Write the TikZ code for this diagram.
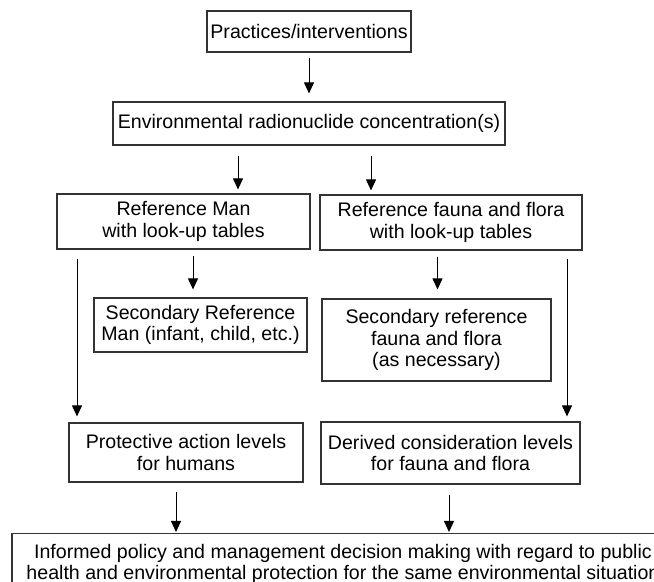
\documentclass[tikz,border=0pt]{standalone}
\usepackage{fontspec}
\setmainfont{Liberation Sans}
\usetikzlibrary{arrows.meta}
\tikzset{>={Triangle[length=5.5pt,width=5pt]}}
\colorlet{boxcol}{black!80}
\tikzstyle{box}=[draw=boxcol,line width=0.6pt,align=center,inner sep=0pt,font=\fontsize{9.8}{10.8}\selectfont]
\tikzstyle{arr}=[->,line width=0.5pt]

\begin{document}
\begin{tikzpicture}[x=0.5pt,y=-0.5pt]
  \useasboundingbox (0,0) rectangle (654,582);
  \clip (0,0) rectangle (654,582);

  \node[box,minimum width=102pt,minimum height=20.5pt] (prac) at (309,31.5) {Practices/interventions};
  \node[box,minimum width=196pt,minimum height=21.5pt] (env) at (309,123.5) {Environmental radionuclide concentration(s)};
  \node[box,minimum width=126.5pt,minimum height=27.5pt] (refman) at (183.5,221.5) {Reference Man\\with look-up tables};
  \node[box,minimum width=131pt,minimum height=27.5pt] (reffauna) at (451,222.5) {Reference fauna and flora\\with look-up tables};
  \node[box,minimum width=106.5pt,minimum height=27pt] (secman) at (200.5,325) {Secondary Reference\\Man (infant, child, etc.)};
  \node[box,minimum width=114.5pt,minimum height=41pt] (secfauna) at (436.5,340) {Secondary reference\\fauna and flora\\(as necessary)};
  \node[box,minimum width=117pt,minimum height=29.5pt] (protlev) at (186,452.5) {Protective action levels\\for humans};
  \node[box,minimum width=129.5pt,minimum height=31pt] (derlev) at (450.5,453) {Derived consideration levels\\for fauna and flora};
  \node[box,anchor=north,minimum width=331pt,inner ysep=5.2pt] (policy) at (343,533)
    {Informed policy and management decision making with regard to public\\health and environmental protection for the same environmental situation};

  % x positions of the arrows
  \coordinate (xL) at (238,0);
  \coordinate (xR) at (371,0);
  \coordinate (xLL) at (77,0);
  \coordinate (xRR) at (567,0);
  \coordinate (xSL) at (193,0);
  \coordinate (xSR) at (437.5,0);
  \coordinate (xBL) at (176,0);
  \coordinate (xBR) at (449,0);

  \draw[arr,shorten <=2.5pt,shorten >=4pt] (prac) -- (env);
  \draw[arr,shorten <=5pt,shorten >=2pt] (env.south -| xL) -- (refman.north -| xL);
  \draw[arr,shorten <=5pt,shorten >=2pt] (env.south -| xR) -- (reffauna.north -| xR);
  \draw[arr,shorten <=4.5pt,shorten >=3pt] (refman.south -| xLL) -- (protlev.north -| xLL);
  \draw[arr,shorten <=4pt,shorten >=2.5pt] (reffauna.south -| xRR) -- (derlev.north -| xRR);
  \draw[arr,shorten <=3pt,shorten >=4pt] (refman.south -| xSL) -- (secman.north -| xSL);
  \draw[arr,shorten <=3pt,shorten >=4.5pt] (reffauna.south -| xSR) -- (secfauna.north -| xSR);
  \draw[arr,shorten <=4.5pt,shorten >=0.5pt] (protlev.south -| xBL) -- (policy.north -| xBL);
  \draw[arr,shorten <=5pt,shorten >=0.5pt] (derlev.south -| xBR) -- (policy.north -| xBR);
\end{tikzpicture}
\end{document}
